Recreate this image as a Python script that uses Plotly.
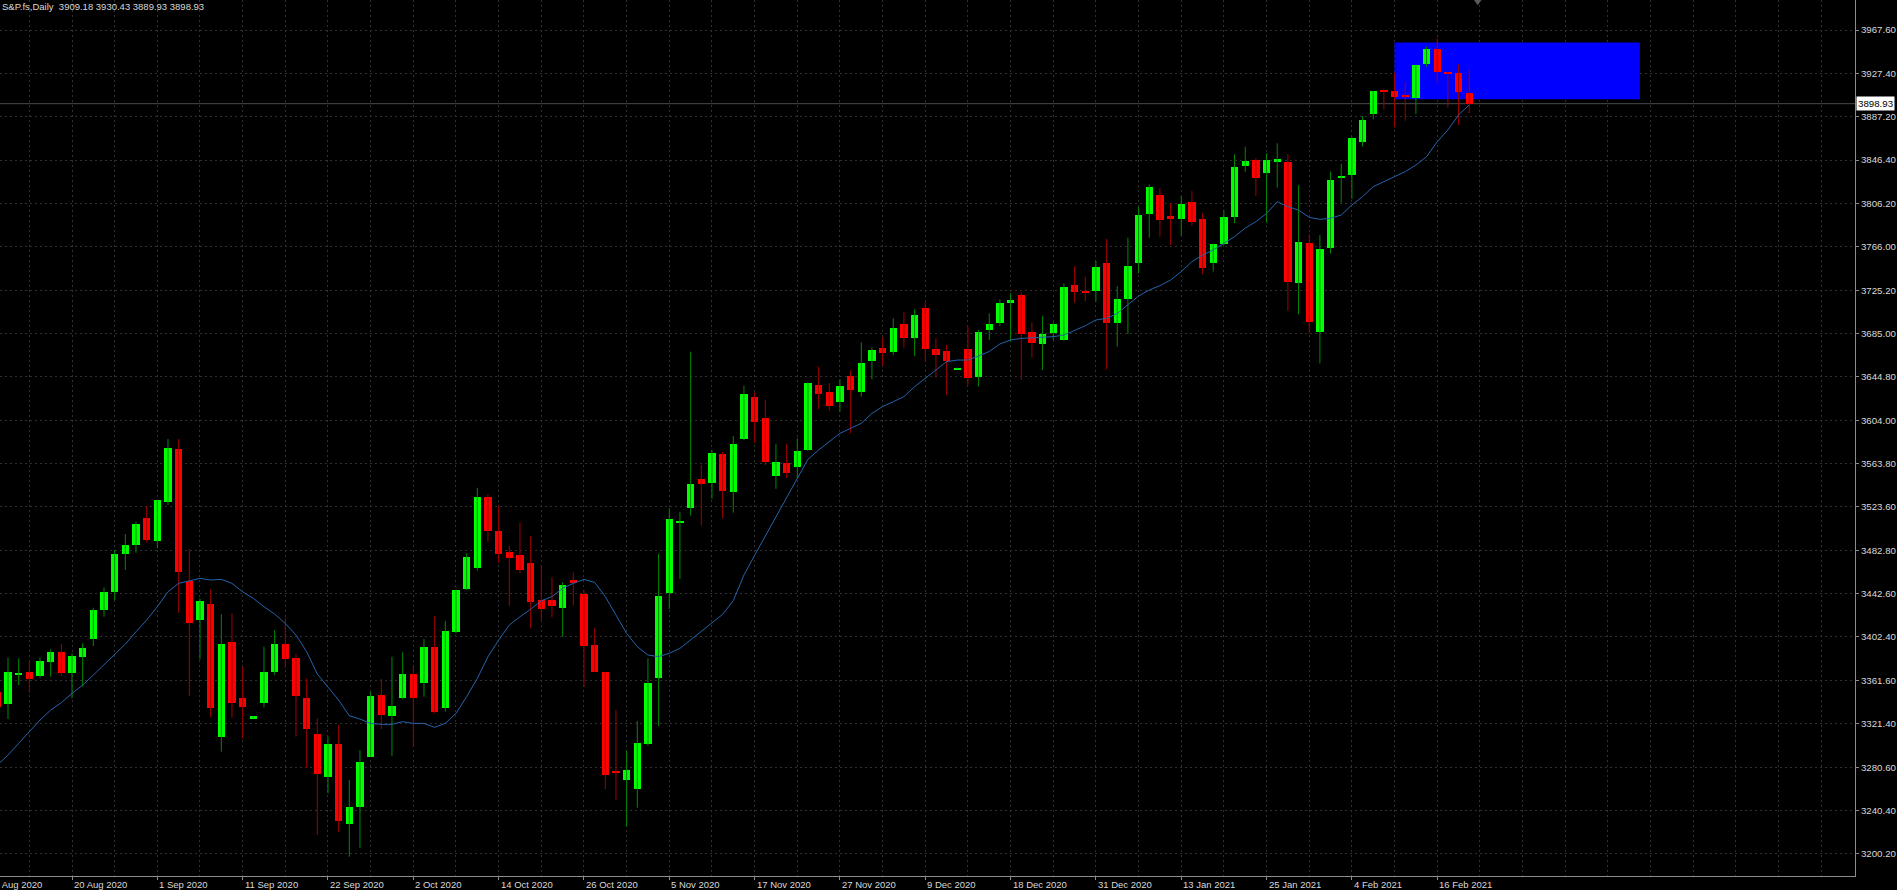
import plotly.graph_objects as go

# ---------------- data ----------------
opens = [
    3350.9, 3339.1, 3367.1, 3369.6, 3365.5, 3378.9, 3388.2, 3368.0, 3383.5, 3399.7,
    3427.0, 3444.1, 3479.2, 3487.6, 3512.5, 3491.6, 3528.0, 3576.8, 3454.1, 3417.7,
    3432.6, 3309.0, 3396.9, 3345.3, 3326.4, 3340.7, 3369.2, 3395.6, 3382.0, 3344.7,
    3311.1, 3271.7, 3302.1, 3227.6, 3243.1, 3290.3, 3347.8, 3328.5, 3345.3, 3367.4,
    3359.3, 3392.9, 3336.0, 3406.2, 3446.3, 3466.5, 3532.6, 3501.0, 3480.8, 3478.3,
    3470.5, 3436.4, 3436.4, 3428.6, 3455.0, 3442.0, 3394.4, 3369.0, 3277.0, 3268.6,
    3259.9, 3301.8, 3364.0, 3442.6, 3507.8, 3522.4, 3548.8, 3545.7, 3572.4, 3537.3,
    3586.1, 3625.9, 3605.7, 3552.0, 3564.0, 3560.0, 3576.2, 3636.4, 3630.2, 3620.6,
    3645.1, 3629.9, 3659.4, 3670.9, 3667.5, 3693.6, 3680.9, 3708.5, 3670.0, 3668.8,
    3651.6, 3670.0, 3644.5, 3688.0, 3694.8, 3713.5, 3720.6, 3685.8, 3674.6, 3684.9,
    3678.7, 3730.2, 3724.0, 3724.3, 3750.7, 3694.8, 3716.9, 3750.1, 3795.8, 3813.8,
    3794.2, 3791.4, 3807.6, 3791.7, 3750.7, 3767.8, 3793.6, 3840.8, 3846.4, 3834.6,
    3844.3, 3844.9, 3731.5, 3768.8, 3686.5, 3764.1, 3829.4, 3832.5, 3863.5, 3889.0,
    3911.7, 3910.7, 3907.0, 3904.5, 3935.6, 3949.9, 3928.8, 3927.8, 3909.18]

highs = [
    3362.0, 3382.6, 3382.0, 3380.4, 3382.6, 3390.4, 3395.3, 3386.6, 3396.0, 3429.2,
    3448.1, 3482.9, 3497.9, 3509.3, 3523.9, 3530.0, 3586.4, 3586.4, 3483.9, 3437.9,
    3446.3, 3423.3, 3424.0, 3374.2, 3327.9, 3392.9, 3408.4, 3419.3, 3386.0, 3363.3,
    3326.1, 3309.0, 3319.8, 3268.6, 3296.5, 3350.9, 3362.7, 3383.5, 3387.6, 3374.2,
    3400.0, 3421.7, 3416.8, 3446.0, 3479.8, 3541.0, 3534.8, 3524.3, 3486.7, 3508.4,
    3496.3, 3469.0, 3457.5, 3452.8, 3462.1, 3445.7, 3410.0, 3369.5, 3333.8, 3295.9,
    3323.6, 3382.0, 3479.2, 3521.8, 3518.7, 3667.8, 3562.2, 3576.2, 3574.3, 3589.2,
    3636.1, 3629.9, 3622.8, 3582.0, 3582.0, 3587.0, 3639.2, 3653.9, 3638.3, 3642.0,
    3650.7, 3676.5, 3671.9, 3681.2, 3698.9, 3704.5, 3707.3, 3713.8, 3680.2, 3674.3,
    3653.0, 3691.1, 3688.0, 3703.5, 3716.6, 3722.2, 3723.1, 3694.8, 3701.3, 3695.1,
    3731.5, 3747.6, 3737.7, 3752.6, 3772.8, 3729.0, 3774.0, 3802.9, 3823.7, 3820.0,
    3806.0, 3812.9, 3817.5, 3796.7, 3768.5, 3799.8, 3851.7, 3858.8, 3848.0, 3852.7,
    3862.0, 3852.0, 3823.1, 3777.2, 3776.5, 3835.6, 3842.7, 3868.2, 3887.4, 3911.0,
    3912.3, 3927.8, 3919.4, 3935.3, 3952.1, 3959.8, 3929.0, 3935.6, 3930.43]

lows = [
    3330.0, 3325.4, 3357.1, 3350.0, 3364.0, 3364.9, 3365.5, 3344.7, 3355.6, 3393.5,
    3420.8, 3436.3, 3464.3, 3480.5, 3489.8, 3484.5, 3524.9, 3424.5, 3346.9, 3381.0,
    3327.0, 3295.0, 3326.7, 3307.4, 3326.4, 3336.3, 3366.4, 3373.3, 3309.0, 3280.1,
    3217.3, 3256.2, 3220.4, 3197.1, 3205.5, 3290.3, 3316.1, 3291.0, 3343.8, 3299.7,
    3346.3, 3330.7, 3332.3, 3405.3, 3445.7, 3463.7, 3490.7, 3471.3, 3430.8, 3461.2,
    3410.0, 3417.7, 3420.2, 3402.2, 3431.1, 3355.6, 3369.0, 3260.2, 3250.0, 3225.1,
    3242.8, 3300.6, 3318.9, 3428.0, 3455.9, 3515.0, 3505.6, 3530.5, 3512.5, 3517.8,
    3585.5, 3583.0, 3562.0, 3540.0, 3550.0, 3550.0, 3575.2, 3614.4, 3612.8, 3611.9,
    3591.7, 3625.9, 3642.0, 3654.5, 3664.7, 3671.6, 3663.8, 3658.5, 3643.9, 3627.4,
    3651.6, 3636.8, 3635.2, 3678.7, 3691.8, 3677.1, 3641.4, 3662.5, 3650.7, 3678.7,
    3678.1, 3713.5, 3715.0, 3714.4, 3651.3, 3672.5, 3684.3, 3740.8, 3774.0, 3775.0,
    3767.2, 3775.9, 3785.2, 3740.2, 3742.4, 3767.2, 3787.4, 3835.5, 3812.9, 3788.0,
    3820.7, 3706.0, 3702.6, 3684.9, 3656.9, 3759.5, 3806.7, 3810.1, 3858.9, 3884.3,
    3893.7, 3876.9, 3883.1, 3889.3, 3933.4, 3917.9, 3895.5, 3879.1, 3889.93]

closes = [
    3336.9, 3368.9, 3368.6, 3362.7, 3379.5, 3388.2, 3368.6, 3384.2, 3391.9, 3427.0,
    3444.1, 3479.5, 3487.6, 3506.9, 3492.3, 3529.5, 3577.7, 3462.1, 3414.6, 3435.4,
    3336.0, 3395.3, 3340.7, 3336.9, 3327.9, 3368.9, 3395.0, 3381.0, 3347.2, 3316.1,
    3274.2, 3301.8, 3230.7, 3243.1, 3285.7, 3347.2, 3329.2, 3337.9, 3367.4, 3345.3,
    3392.2, 3331.6, 3407.1, 3445.7, 3476.1, 3532.0, 3501.0, 3479.2, 3475.8, 3464.3,
    3434.2, 3427.7, 3431.1, 3450.3, 3451.9, 3393.5, 3369.0, 3273.3, 3274.8, 3277.9,
    3302.8, 3358.7, 3440.4, 3511.9, 3509.7, 3544.5, 3544.2, 3573.1, 3538.0, 3581.8,
    3628.0, 3602.6, 3565.0, 3565.0, 3555.0, 3575.5, 3638.3, 3628.0, 3617.5, 3635.8,
    3632.1, 3657.6, 3669.4, 3666.2, 3689.9, 3680.9, 3702.3, 3670.6, 3664.7, 3659.1,
    3653.0, 3643.6, 3685.8, 3693.6, 3713.4, 3715.9, 3683.9, 3675.6, 3684.3, 3693.6,
    3728.4, 3723.1, 3722.6, 3746.4, 3694.8, 3716.6, 3747.6, 3795.2, 3820.9, 3790.5,
    3791.1, 3805.4, 3788.3, 3745.5, 3768.1, 3793.6, 3840.2, 3845.8, 3829.4, 3846.4,
    3847.1, 3733.1, 3769.7, 3695.8, 3763.5, 3827.8, 3831.5, 3867.3, 3883.7, 3910.7,
    3909.8, 3905.5, 3904.8, 3935.0, 3949.6, 3928.1, 3926.3, 3909.5, 3898.93]

ma_values = [
    3282.6, 3291.9, 3302.8, 3313.6, 3324.5, 3333.8, 3340.7, 3349.3, 3357.1, 3366.4,
    3375.8, 3385.1, 3395.3, 3406.8, 3417.7, 3430.1, 3444.1, 3451.9, 3454.0, 3456.5,
    3455.0, 3455.6, 3451.9, 3444.0, 3437.9, 3430.1, 3423.3, 3414.6, 3403.7, 3388.2,
    3367.4, 3355.6, 3343.1, 3328.5, 3325.4, 3321.4, 3320.5, 3320.5, 3323.0, 3321.4,
    3321.4, 3317.7, 3321.4, 3330.7, 3346.3, 3363.3, 3383.5, 3399.0, 3413.1, 3420.8,
    3427.7, 3435.7, 3439.5, 3447.2, 3451.9, 3455.6, 3452.8, 3439.5, 3422.4, 3405.3,
    3392.9, 3385.1, 3383.6, 3386.7, 3391.3, 3399.1, 3406.9, 3415.2, 3423.0, 3435.7,
    3459.7, 3478.0, 3496.0, 3514.0, 3531.0, 3549.0, 3567.5, 3576.2, 3583.9, 3591.7,
    3596.4, 3601.0, 3610.3, 3616.6, 3621.2, 3625.9, 3635.2, 3643.0, 3651.4, 3658.5,
    3660.0, 3660.0, 3663.8, 3668.0, 3675.0, 3678.7, 3680.2, 3680.9, 3681.2, 3681.8,
    3683.3, 3687.4, 3692.0, 3697.3, 3698.9, 3703.5, 3711.3, 3719.7, 3725.3, 3729.3,
    3734.6, 3742.4, 3751.7, 3757.9, 3762.6, 3768.8, 3775.0, 3783.0, 3789.0, 3796.7,
    3807.6, 3803.0, 3799.8, 3793.0, 3791.1, 3792.1, 3795.2, 3804.5, 3812.3, 3821.6,
    3826.2, 3830.3, 3835.6, 3841.8, 3849.5, 3863.5, 3874.4, 3888.4, 3897.7]

date_labels = ["10 Aug 2020", "20 Aug 2020", "1 Sep 2020", "11 Sep 2020", "22 Sep 2020",
               "2 Oct 2020", "14 Oct 2020", "26 Oct 2020", "5 Nov 2020", "17 Nov 2020",
               "27 Nov 2020", "9 Dec 2020", "18 Dec 2020", "31 Dec 2020", "13 Jan 2021",
               "25 Jan 2021", "4 Feb 2021", "16 Feb 2021"]

price_ticks = [3200.2, 3240.4, 3280.6, 3321.4, 3361.6, 3402.4, 3442.6, 3482.8, 3523.6, 3563.8,
               3604.0, 3644.8, 3685.0, 3725.2, 3766.0, 3806.2, 3846.4, 3887.2, 3927.4, 3967.6]

zone_low, zone_high = 3903.0, 3956.0     # blue rectangle price bounds

n = len(opens)
assert len(highs) == n and len(lows) == n and len(closes) == n and len(ma_values) == n, \
    (len(opens), len(highs), len(lows), len(closes), len(ma_values))

# ---------------- styling ----------------
BG = "#000000"
GRID = "#303030"
AXIS = "#8c8c8c"
TXT = "#d8d8d8"
FONT = "Liberation Sans"
UP_BODY, DN_BODY = "#00ff00", "#ff0000"
UP_WICK, DN_WICK = "#008a00", "#a00000"

idx = list(range(n))
label_bars = list(range(-1, -1 + 8 * len(date_labels), 8))

x_lo, x_hi = 0.2496, 174.17
y_lo, y_hi = 3179.16, 3995.56

# wicks
wx_up, wy_up, wx_dn, wy_dn = [], [], [], []
for i in idx:
    if closes[i] >= opens[i]:
        wx_up += [i, i, None]; wy_up += [lows[i], highs[i], None]
    else:
        wx_dn += [i, i, None]; wy_dn += [lows[i], highs[i], None]

bases = [min(o, c) for o, c in zip(opens, closes)]
heights = [abs(c - o) for o, c in zip(opens, closes)]
colors = [UP_BODY if c >= o else DN_BODY for o, c in zip(opens, closes)]

fig = go.Figure()
fig.add_trace(go.Scatter(x=wx_up, y=wy_up, mode="lines", line=dict(color=UP_WICK, width=1),
                         hoverinfo="skip"))
fig.add_trace(go.Scatter(x=wx_dn, y=wy_dn, mode="lines", line=dict(color=DN_WICK, width=1),
                         hoverinfo="skip"))
fig.add_trace(go.Bar(x=idx, y=heights, base=bases, width=0.68,
                     marker=dict(color=colors, line=dict(width=0)), hoverinfo="skip"))
fig.add_trace(go.Scatter(x=idx, y=ma_values, mode="lines",
                         line=dict(color="#2563ad", width=1), hoverinfo="skip"))

# shapes
fig.add_shape(type="rect", xref="x", yref="y", x0=idx[-8], x1=idx[-1] + 16,
              y0=zone_low, y1=zone_high, fillcolor="#0000ff", line=dict(width=0),
              layer="between")
fig.add_shape(type="line", xref="paper", yref="y", x0=0, x1=1,
              y0=closes[-1], y1=closes[-1], line=dict(color="#4a4a4a", width=1),
              layer="between")
fig.add_shape(type="path", xref="x", yref="paper",
              path="M 138.45,1 L 139.15,1 L 138.8,0.994 Z",
              fillcolor="#5a5a5a", line=dict(width=0))

annotations = []
# date labels (left-aligned at their tick, as in the terminal)
for pos, lab in zip(label_bars, date_labels):
    if pos < x_lo:
        annotations.append(dict(x=(pos - x_lo) / (x_hi - x_lo), xref="paper", y=0, yref="paper",
                                text=lab, showarrow=False, xanchor="left", yanchor="middle",
                                yshift=-8, xshift=0, font=dict(family=FONT, size=9.5, color=TXT)))
    else:
        annotations.append(dict(x=pos, xref="x", y=0, yref="paper", text=lab, showarrow=False,
                                xanchor="left", yanchor="middle", yshift=-8, xshift=0,
                                font=dict(family=FONT, size=9.5, color=TXT)))
# header
annotations.append(dict(
    x=0, xref="paper", y=1, yref="paper", xanchor="left", yanchor="top", showarrow=False,
    text="S&amp;P.fs,Daily\u00a0\u00a0%.2f %.2f %.2f %.2f" % (opens[-1], highs[-1], lows[-1], closes[-1]),
    font=dict(family=FONT, size=9.5, color=TXT), xshift=0, yshift=1))
# current price box
annotations.append(dict(
    x=1, xref="paper", y=closes[-1], yref="y", xanchor="left", yanchor="middle", showarrow=False,
    text="%.2f" % closes[-1], bgcolor="#ffffff", borderpad=1,
    font=dict(family=FONT, size=9.7, color="#000000"), xshift=1))

fig.update_layout(
    width=1897, height=890,
    paper_bgcolor=BG, plot_bgcolor=BG,
    margin=dict(l=0, r=42, t=0, b=14, pad=0),
    showlegend=False,
    bargap=0,
    annotations=annotations,
    xaxis=dict(
        range=[x_lo, x_hi], zeroline=False, showgrid=False,
        showline=True, linecolor=AXIS, linewidth=1,
        tickmode="array", tickvals=label_bars[1:], ticktext=[""] * (len(label_bars) - 1),
        ticks="outside", ticklen=3, tickcolor=AXIS, showticklabels=False,
        minor=dict(tickmode="linear", tick0=-1, dtick=4, showgrid=True, gridcolor=GRID,
                   griddash="2px,3px", gridwidth=1, ticks=""),
        fixedrange=True,
    ),
    yaxis=dict(
        side="right", range=[y_lo, y_hi], zeroline=False,
        tickmode="array", tickvals=price_ticks, ticktext=["%.2f" % v for v in price_ticks],
        showgrid=True, gridcolor=GRID, griddash="2px,3px", gridwidth=1,
        ticks="outside", ticklen=3, tickcolor=AXIS,
        showline=True, linecolor=AXIS, linewidth=1,
        tickfont=dict(family=FONT, size=9.7, color=TXT),
        fixedrange=True,
    ),
)

fig.write_html(
    "out.html",
    config={"displayModeBar": False},
    post_script="document.body.style.margin='0';document.body.style.padding='0';"
                "document.body.style.overflow='hidden';"
                "document.body.style.background='#000';",
)
